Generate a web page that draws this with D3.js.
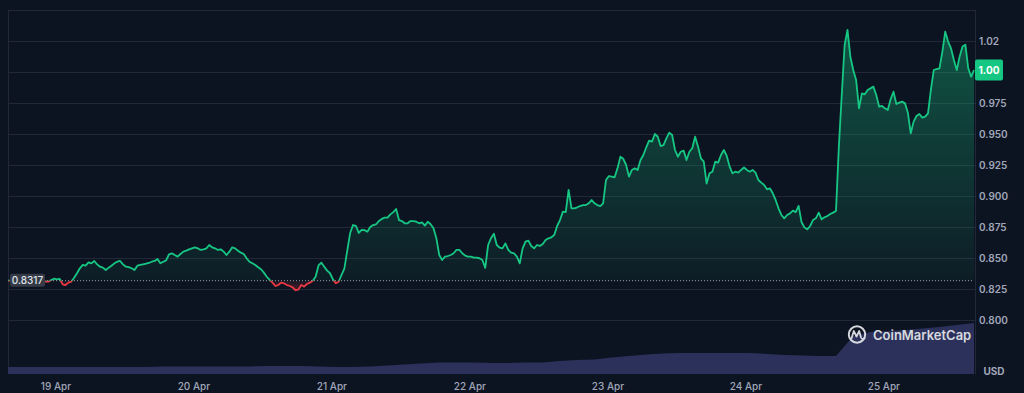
<!DOCTYPE html>
<html><head><meta charset="utf-8">
<script src="https://cdn.jsdelivr.net/npm/d3@7"></script>
<style>html,body{margin:0;padding:0;background:#0d1421;overflow:hidden}text{font-family:Inter,"Noto Sans",sans-serif}</style>
</head><body><svg id="c" width="1024" height="393"></svg>
<script>
// ---- data ----
const startTime = "2024-04-18T15:40:00Z";
const stepHours = 0.5;
const prices = [
0.8317,0.8318,0.8320,0.8316,0.8314,0.8312,0.8310,0.8315,0.8318,0.8314,
0.8312,0.8308,0.8305,0.8312,0.8309,0.8322,0.8333,0.8328,0.8331,0.8288,
0.8282,0.8301,0.8309,0.8341,0.8377,0.8417,0.8444,0.8438,0.8465,0.8457,
0.8476,0.8449,0.8430,0.8422,0.8403,0.8422,0.8438,0.8457,0.8470,0.8476,
0.8449,0.8430,0.8427,0.8417,0.8403,0.8438,0.8444,0.8449,0.8454,0.8460,
0.8470,0.8476,0.8492,0.8457,0.8470,0.8481,0.8530,0.8538,0.8524,0.8511,
0.8532,0.8551,0.8559,0.8570,0.8578,0.8586,0.8578,0.8565,0.8570,0.8578,
0.8605,0.8586,0.8578,0.8565,0.8570,0.8551,0.8524,0.8551,0.8586,0.8578,
0.8559,0.8543,0.8532,0.8497,0.8470,0.8457,0.8444,0.8425,0.8409,0.8382,
0.8349,0.8323,0.8301,0.8274,0.8282,0.8301,0.8296,0.8282,0.8274,0.8263,
0.8240,0.8245,0.8282,0.8269,0.8290,0.8301,0.8317,0.8349,0.8440,0.8462,
0.8430,0.8398,0.8377,0.8328,0.8296,0.8309,0.8363,0.8415,0.8560,0.8700,
0.8766,0.8760,0.8702,0.8726,0.8725,0.8712,0.8750,0.8766,0.8772,0.8798,
0.8815,0.8825,0.8825,0.8852,0.8870,0.8895,0.8806,0.8798,0.8780,0.8780,
0.8798,0.8798,0.8793,0.8780,0.8788,0.8761,0.8793,0.8772,0.8740,0.8659,
0.8524,0.8484,0.8511,0.8516,0.8524,0.8538,0.8565,0.8565,0.8538,0.8519,
0.8511,0.8511,0.8503,0.8503,0.8498,0.8484,0.8420,0.8605,0.8660,0.8695,
0.8605,0.8583,0.8578,0.8618,0.8565,0.8543,0.8538,0.8511,0.8457,0.8578,
0.8632,0.8640,0.8597,0.8578,0.8605,0.8597,0.8613,0.8645,0.8659,0.8667,
0.8685,0.8758,0.8806,0.8874,0.8870,0.9050,0.8901,0.8901,0.8909,0.8919,
0.8927,0.8927,0.8941,0.8968,0.8941,0.8927,0.8919,0.8941,0.9129,0.9161,
0.9156,0.9151,0.9223,0.9317,0.9300,0.9250,0.9156,0.9210,0.9223,0.9210,
0.9290,0.9331,0.9393,0.9446,0.9438,0.9500,0.9478,0.9403,0.9411,0.9465,
0.9511,0.9492,0.9371,0.9317,0.9357,0.9366,0.9290,0.9357,0.9385,0.9478,
0.9400,0.9304,0.9277,0.9100,0.9183,0.9196,0.9277,0.9269,0.9331,0.9371,
0.9323,0.9237,0.9183,0.9196,0.9188,0.9210,0.9231,0.9210,0.9196,0.9210,
0.9188,0.9129,0.9108,0.9089,0.9054,0.9062,0.9022,0.8968,0.8901,0.8847,
0.8820,0.8847,0.8860,0.8882,0.8870,0.8920,0.8790,0.8747,0.8731,0.8758,
0.8806,0.8820,0.8866,0.8812,0.8828,0.8839,0.8855,0.8866,0.8880,0.9400,
0.9815,1.0218,1.0340,1.0121,1.0016,0.9935,0.9707,0.9828,0.9820,0.9855,
0.9868,0.9882,0.9815,0.9720,0.9726,0.9707,0.9694,0.9780,0.9841,0.9742,
0.9753,0.9761,0.9747,0.9672,0.9506,0.9600,0.9645,0.9661,0.9632,0.9640,
0.9667,0.9855,1.0016,1.0024,1.0030,1.0164,1.0325,1.0245,1.0191,1.0097,
1.0016,1.0124,1.0205,1.0220,1.0030,0.9962,1.0016
];
const baselinePrice = 0.8317;
const baselineLabel = "0.8317";
const lastPriceLabel = "1.00";
const volumeStepHours = 3;
const volumes = [ // relative 24h volume, millions USD
28,28,28,28,28,28,28,28,28,30,30,30,30,30,30,32,32,32,30,28,
28,30,34,38,42,46,46,46,44,44,46,46,52,56,58,66,72,78,82,84,
84,84,84,84,80,76,74,72,72,152,168,172,176,182,188,196,204
];
const gridValues = [0.800,0.825,0.850,0.875,0.900,0.925,0.950,0.975,1.000,1.025,1.050];
const priceTickValues = [0.800,0.825,0.850,0.875,0.900,0.925,0.950,0.975,1.025];
const priceTickLabels = ["0.800","0.825","0.850","0.875","0.900","0.925","0.950","0.975","1.02"];
const dateTicks = ["2024-04-19","2024-04-20","2024-04-21","2024-04-22","2024-04-23","2024-04-24","2024-04-25"];
const currencyLabel = "USD";
const brandLabel = "CoinMarketCap";

// ---- chart ----
const W = 1024, H = 393;
const mLeft = 8, mRight = 974, mTop = 10, priceBottom = 320, plotBottom = 374;
const GREEN = "#16c784", RED = "#ea3943", BG = "#0d1421";
const t0 = new Date(startTime);
const HOUR = 3600e3;
const series = prices.map((p, i) => ({t: new Date(+t0 + i*stepHours*HOUR), p}));
const vols = volumes.map((v, i) => ({t: new Date(+t0 + i*volumeStepHours*HOUR), v}));
const t1 = series[series.length-1].t;

const x = d3.scaleUtc().domain([t0, t1]).range([mLeft, mRight]);
const y = d3.scaleLinear().domain([0.8, 1.05]).range([priceBottom, mTop]);
const yv = d3.scaleLinear().domain([0, 400]).range([plotBottom, plotBottom - 100]);

const svg = d3.select("#c");
svg.append("rect").attr("width", W).attr("height", H).attr("fill", BG);

const defs = svg.append("defs");
const yb = y(baselinePrice);
const gG = defs.append("linearGradient").attr("id","gG").attr("gradientUnits","userSpaceOnUse")
  .attr("x1",0).attr("x2",0).attr("y1", y(d3.max(prices))).attr("y2", yb);
gG.append("stop").attr("offset",0).attr("stop-color",GREEN).attr("stop-opacity",0.36);
gG.append("stop").attr("offset",1).attr("stop-color",GREEN).attr("stop-opacity",0.05);
const gR = defs.append("linearGradient").attr("id","gR").attr("gradientUnits","userSpaceOnUse")
  .attr("x1",0).attr("x2",0).attr("y1", yb).attr("y2", y(d3.min(prices)));
gR.append("stop").attr("offset",0).attr("stop-color",RED).attr("stop-opacity",0.05);
gR.append("stop").attr("offset",1).attr("stop-color",RED).attr("stop-opacity",0.3);
defs.append("clipPath").attr("id","cA").append("rect").attr("x",0).attr("y",0).attr("width",W).attr("height",yb);
defs.append("clipPath").attr("id","cB").append("rect").attr("x",0).attr("y",yb).attr("width",W).attr("height",H-yb);

// grid
svg.append("g").selectAll("line").data(gridValues).join("line")
  .attr("x1", mLeft).attr("x2", mRight+1).attr("y1", d => Math.round(y(d))+0.5).attr("y2", d => Math.round(y(d))+0.5)
  .attr("stroke", "#222838").attr("stroke-width", 1);
// frame verticals
svg.append("line").attr("x1", mLeft+0.5).attr("x2", mLeft+0.5).attr("y1", y(1.05)).attr("y2", plotBottom).attr("stroke","#222838");
svg.append("line").attr("x1", mRight+1.5).attr("x2", mRight+1.5).attr("y1", y(1.05)).attr("y2", plotBottom).attr("stroke","#222838");

// volume
svg.append("path").datum(vols)
  .attr("d", d3.area().x(d => x(d.t)).y0(yv(0)).y1(d => yv(d.v)))
  .attr("fill", "#2b315a");

// price area fills
const area = d3.area().x(d => x(d.t)).y0(yb).y1(d => y(d.p));
svg.append("path").datum(series).attr("d", area).attr("fill","url(#gG)").attr("clip-path","url(#cA)");
svg.append("path").datum(series).attr("d", area).attr("fill","url(#gR)").attr("clip-path","url(#cB)");

// baseline dotted
svg.append("line").attr("x1", mLeft).attr("x2", mRight).attr("y1", yb).attr("y2", yb)
  .attr("stroke", "#aab0bd").attr("stroke-width", 1).attr("stroke-dasharray", "1,2").attr("opacity", 0.9);

// price line
const line = d3.line().x(d => x(d.t)).y(d => y(d.p));
svg.append("path").datum(series).attr("d", line).attr("fill","none").attr("stroke",GREEN)
  .attr("stroke-width",1.8).attr("stroke-linejoin","round").attr("clip-path","url(#cA)");
svg.append("path").datum(series).attr("d", line).attr("fill","none").attr("stroke",RED)
  .attr("stroke-width",1.8).attr("stroke-linejoin","round").attr("clip-path","url(#cB)");

// baseline label
const bl = svg.append("g");
bl.append("rect").attr("x", 10).attr("y", yb - 7).attr("width", 35).attr("height", 13).attr("rx", 2).attr("fill", "#363a47");
bl.append("text").attr("x", 27.5).attr("y", yb).attr("dy","0.35em").attr("text-anchor","middle")
  .attr("font-size", 10).attr("font-weight", 500).attr("fill", "#dfe3ea").text(baselineLabel);

// y axis labels
svg.append("g").selectAll("text").data(priceTickValues).join("text")
  .attr("x", 979).attr("y", d => y(d)).attr("dy","0.35em")
  .attr("font-size", 10).attr("font-weight", 600).attr("fill", "#a1a7bb")
  .text((d,i) => priceTickLabels[i]);

// last price badge
const lastP = prices[prices.length-1];
svg.append("rect").attr("x", 975).attr("y", y(lastP) - 10.5).attr("width", 28).attr("height", 21).attr("rx", 2).attr("fill", GREEN);
svg.append("text").attr("x", 989).attr("y", y(lastP)).attr("dy","0.35em").attr("text-anchor","middle")
  .attr("font-size", 10).attr("font-weight", 700).attr("fill", "#ffffff").text(lastPriceLabel);

// USD
svg.append("text").attr("x", 994).attr("y", 371).attr("dy","0.35em").attr("text-anchor","middle")
  .attr("font-size", 10).attr("font-weight", 700).attr("fill", "#a1a7bb").text(currencyLabel);

// x axis labels
const fmt = d3.utcFormat("%-d %b");
svg.append("g").selectAll("text").data(dateTicks.map(s => new Date(s + "T00:00:00Z"))).join("text")
  .attr("x", d => x(d)).attr("y", 386).attr("dy","0.35em").attr("text-anchor","middle")
  .attr("font-size", 10).attr("font-weight", 500).attr("fill", "#a1a7bb").text(d => fmt(d));

// brand
const br = svg.append("g").attr("opacity", 0.92);
br.append("circle").attr("cx", 857).attr("cy", 334.5).attr("r", 8.2).attr("fill","none").attr("stroke","#e6e8ec").attr("stroke-width",2);
br.append("path").attr("d","M851.5 338.5 L853.8 331 L856.5 336.5 L859.2 331 L861 337.5 Q862 340 864.5 338.5")
  .attr("fill","none").attr("stroke","#e6e8ec").attr("stroke-width",1.8).attr("stroke-linejoin","round").attr("stroke-linecap","round");
br.append("text").attr("x", 873).attr("y", 335).attr("dy","0.35em")
  .attr("font-size", 13).attr("font-weight", 600).attr("fill", "#e6e8ec").text(brandLabel);
</script></body></html>
